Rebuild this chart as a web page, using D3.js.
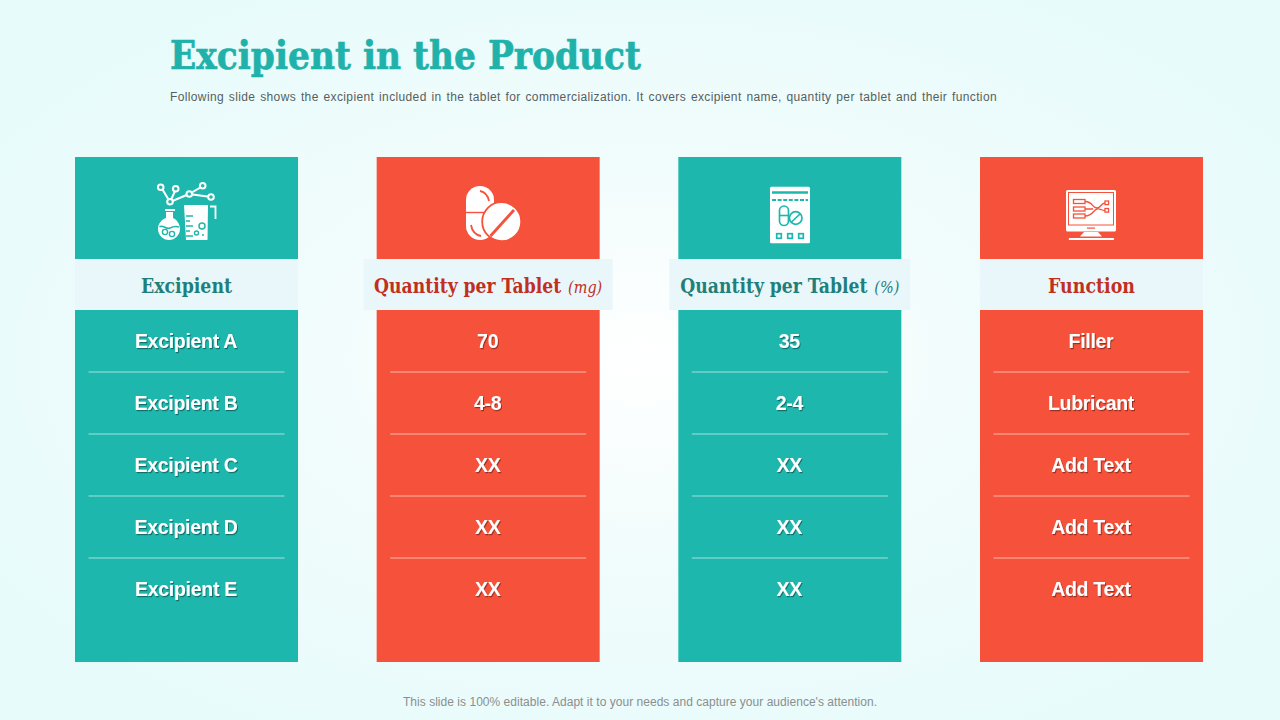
<!DOCTYPE html>
<html><head><meta charset="utf-8">
<script src="https://cdnjs.cloudflare.com/ajax/libs/d3/7.8.5/d3.min.js"></script>
<style>html,body{margin:0;padding:0;background:#e9fbfb}svg{display:block}text{font-family:"Liberation Sans",Arial,sans-serif}</style>
</head><body><div id="c"></div>
<script>
const titleText = "Excipient in the Product";
const subtitleText = "Following slide shows the excipient included in the tablet for commercialization. It covers excipient name, quantity per tablet and their function";
const footerText = "This slide is 100% editable. Adapt it to your needs and capture your audience's attention.";
const columns = ["Excipient", "Quantity per Tablet", "Quantity per Tablet", "Function"];
const columnUnits = ["", "(mg)", "(%)", ""];
const rowIndex = [0, 1, 2, 3, 4];
const colExcipient = ["Excipient A", "Excipient B", "Excipient C", "Excipient D", "Excipient E"];
const colMg = ["70", "4-8", "XX", "XX", "XX"];
const colPct = ["35", "2-4", "XX", "XX", "XX"];
const colFunction = ["Filler", "Lubricant", "Add Text", "Add Text", "Add Text"];
const tableValues = [colExcipient, colMg, colPct, colFunction];

const TEAL = "#1eb7ae", RED = "#f6513a", BAND = "#e9f7fb";
const SERIF = "'DejaVu Serif Condensed','DejaVu Serif',serif";
const headColor = ["#1f7f7b", "#c1301f", "#1f7f7b", "#c1301f"];
const fills = [TEAL, RED, TEAL, RED];
const bandPad = [0, 13, 9, 0];

const svg = d3.select("#c").append("svg").attr("width", 1280).attr("height", 720);
const defs = svg.append("defs");
const grad = defs.append("radialGradient").attr("id", "bg").attr("cx", "50%").attr("cy", "50%").attr("r", "62%");
grad.append("stop").attr("offset", "0%").attr("stop-color", "#ffffff");
grad.append("stop").attr("offset", "45%").attr("stop-color", "#f1fcfc");
grad.append("stop").attr("offset", "100%").attr("stop-color", "#e7fbfb");
const sh = defs.append("filter").attr("id", "sh").attr("x", "-10%").attr("y", "-20%").attr("width", "125%").attr("height", "150%");
sh.append("feDropShadow").attr("dx", 1).attr("dy", 1.2).attr("stdDeviation", 0.6).attr("flood-color", "#000").attr("flood-opacity", 0.4);
svg.append("rect").attr("width", 1280).attr("height", 720).attr("fill", "url(#bg)");

svg.append("text").attr("x", 170).attr("y", 68.5).attr("fill", "#20b2aa").attr("stroke", "#20b2aa").attr("stroke-width", 0.6)
  .style("font-family", SERIF).style("font-weight", 700).style("font-size", "40px")
  .attr("textLength", 471).attr("lengthAdjust", "spacingAndGlyphs").text(titleText);
const sub = svg.append("text").attr("x", 170).attr("y", 101).attr("fill", "#565f60").style("font-size", "12px").text(subtitleText);
const subLen = sub.node().getComputedTextLength();
sub.style("letter-spacing", (0.7 * (827 - subLen) / subtitleText.length) + "px")
   .style("word-spacing", (0.3 * (827 - subLen) / (subtitleText.split(" ").length - 1)) + "px");
svg.append("text").attr("x", 640).attr("y", 706).attr("text-anchor", "middle").attr("fill", "#8a8f90").style("font-size", "12px").attr("textLength", 474).text(footerText);

const x = d3.scalePoint().domain(d3.range(4)).range([75, 980]);
const colW = 223;
const y = d3.scalePoint().domain(rowIndex).range([341, 589]);

const col = svg.selectAll("g.col").data(d3.range(4)).join("g").attr("class", "col");
col.append("rect").attr("x", d => x(d)).attr("y", 157).attr("width", colW).attr("height", 505).attr("fill", d => fills[d]);
col.append("rect").attr("x", d => x(d) - bandPad[d]).attr("y", 259).attr("width", d => colW + bandPad[d] * 2).attr("height", 51).attr("fill", BAND);

const head = col.append("text").attr("x", d => x(d) + colW / 2).attr("y", 293).attr("text-anchor", "middle")
  .attr("fill", d => headColor[d]).style("font-family", SERIF);
head.append("tspan").style("font-weight", 700).style("font-size", "20px").attr("textLength", d => ({0: 91, 1: 187, 2: 187, 3: 87})[d]).attr("lengthAdjust", "spacingAndGlyphs").text(d => columns[d]);
head.filter(d => columnUnits[d]).append("tspan").attr("dx", 7).style("font-style", "italic").style("font-size", "16px").text(d => columnUnits[d]);

col.each(function (c) {
  const g = d3.select(this);
  g.selectAll("line.sep").data(rowIndex.slice(0, 4)).join("line").attr("class", "sep")
    .attr("x1", x(c) + 13.5).attr("x2", x(c) + colW - 13.5)
    .attr("y1", r => (y(r) + y(r + 1)) / 2).attr("y2", r => (y(r) + y(r + 1)) / 2)
    .attr("stroke", "#ffffff").attr("stroke-opacity", 0.6).attr("stroke-width", 1);
  g.selectAll("text.val").data(tableValues[c]).join("text").attr("class", "val")
    .attr("x", x(c) + colW / 2 - 0.5).attr("y", (_, r) => y(r) + 6.5).attr("text-anchor", "middle")
    .attr("fill", "#fff").attr("filter", "url(#sh)").style("font-weight", 700).style("font-size", "19.5px").style("letter-spacing", "-0.3px").text(d => d);
});

// decorative icons
const W = "#fff";
const ic = svg.append("g");
function P(g, d, o = {}) { const p = g.append("path").attr("d", d).attr("fill", o.fill || "none"); if (o.s) p.attr("stroke", o.s).attr("stroke-width", o.w || 1.5).attr("stroke-linecap", o.cap || "butt"); return p; }
function C(g, cx, cy, r, o = {}) { return g.append("circle").attr("cx", cx).attr("cy", cy).attr("r", r).attr("fill", o.fill || "none").attr("stroke", o.s || null).attr("stroke-width", o.w || 1.5); }
function R(g, xx, yy, w, h, o = {}) { return g.append("rect").attr("x", xx).attr("y", yy).attr("width", w).attr("height", h).attr("rx", o.r || 0).attr("fill", o.fill || "none").attr("stroke", o.s || null).attr("stroke-width", o.w || 1); }

// flask + beaker
const a = ic.append("g");
P(a, "M161 187L170 202M176 189L170 202M170 202L189 194L203 186M189 194L211 197", { s: W, w: 2 });
[[160.7, 187.3], [175.7, 188.7], [170, 201.7], [189.3, 194], [202.7, 185.7], [211, 197]].forEach(n => C(a, n[0], n[1], 2.8, { fill: TEAL, s: W, w: 2 }));
R(a, 165, 209, 10, 2, { fill: W });
P(a, "M166 212H173V218C177 220 180 224 180 229C180 235 175 240 169 240C163 240 158 235 158 229C158 224 161 220 166 218Z", { fill: W });
P(a, "M159.5 227C163 224 166 230 170 228C174 226 176 226 179 227", { s: TEAL, w: 1.5 });
C(a, 165, 232, 2.6, { s: TEAL, w: 1.4 }); C(a, 172, 234, 2.6, { s: TEAL, w: 1.4 });
P(a, "M184 205H208L207.5 240H186Z", { fill: W });
P(a, "M186 216H193M186 221H190M186 226H193M186 231H190M186 236H193", { s: TEAL, w: 1.3 });
C(a, 202, 226, 3, { s: TEAL, w: 1.5 }); C(a, 196.5, 233, 2, { s: TEAL, w: 1.4 }); C(a, 203, 235, 1, { fill: TEAL });
P(a, "M210 206.5H215.5V219", { s: W, w: 1.8 });

// pills
const b = ic.append("g");
R(b, 466, 186, 28, 54, { fill: W, r: 14 });
P(b, "M466 212.5H494", { s: RED, w: 1.4 });
P(b, "M480 191C485 192 488 196 489 201M471 225C472 231 476 235 481 236", { s: RED, w: 1.8 });
C(b, 501.7, 221.7, 19.5, { fill: W, s: RED, w: 1.8 });
P(b, "M490.5 236L514 210", { s: RED, w: 2.8 });

// blister pack
const e = ic.append("g");
R(e, 770, 186.7, 40, 56.6, { fill: W, r: 1.5 });
P(e, "M772 192.5H808", { s: TEAL, w: 2.4 });
P(e, "M772 200H808", { s: TEAL, w: 2 }).attr("stroke-dasharray", "4 1.6");
R(e, 779.5, 206, 9, 19.5, { r: 4.5, s: TEAL, w: 1.7 });
P(e, "M779.5 215.5H788.5", { s: TEAL, w: 1.6 });
C(e, 795.7, 218, 6.3, { fill: W, s: TEAL, w: 1.7 });
P(e, "M791.5 222L800 214", { s: TEAL, w: 1.7 });
[779, 790, 801].forEach(v => R(e, v - 2.3, 233.7, 4.6, 4.6, { s: TEAL, w: 1.7 }));

// monitor
const f = ic.append("g");
R(f, 1066, 190, 50, 41.5, { fill: W, r: 1.5 });
R(f, 1068.5, 192.5, 45, 32.5, { s: RED, w: 1 });
[199.5, 207, 214].forEach(v => R(f, 1073.5, v, 11.5, 4, { s: RED, w: 1.3 }));
P(f, "M1085 201.5C1093 201.5 1092 208 1097 208C1101 208 1101 203 1105 203M1085 209H1093M1085 216C1093 216 1093 210 1097 209C1100 208 1101 210.5 1105 210.5", { s: RED, w: 1.3 });
R(f, 1105, 201, 3.6, 3.6, { s: RED, w: 1.3 }); R(f, 1105, 208.5, 3.6, 3.6, { s: RED, w: 1.3 });
R(f, 1087, 227.5, 8, 1.2, { fill: RED });
P(f, "M1084 232H1098L1102 236.5H1080Z", { fill: W });
R(f, 1068.7, 238, 45.5, 2, { fill: W, r: 1 });
</script></body></html>
